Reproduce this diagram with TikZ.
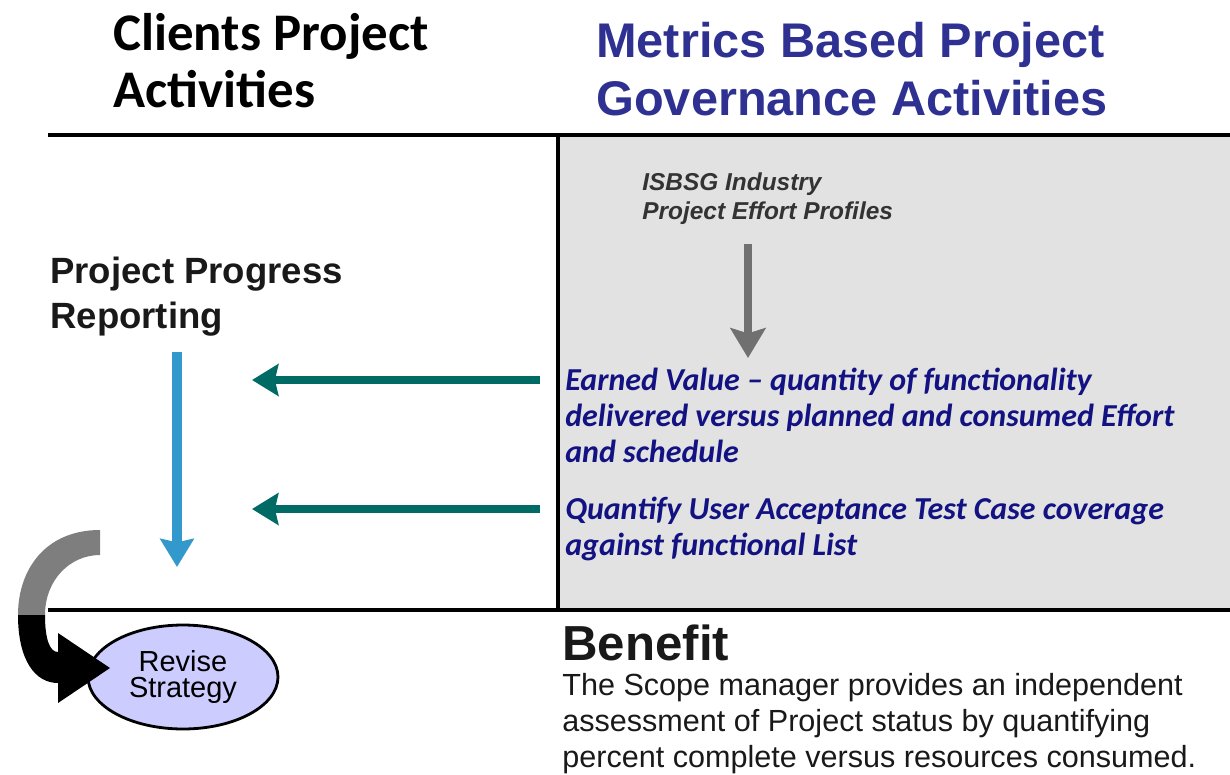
\documentclass[tikz,border=0pt]{standalone}
\usepackage{fontspec}
\setmainfont{Liberation Sans}
\newfontfamily\carlito{Carlito}
\usepackage{xcolor}
\usetikzlibrary{arrows.meta}
\usetikzlibrary{shapes.geometric}

\definecolor{hdrblue}{RGB}{46,49,146}
\definecolor{navytext}{RGB}{18,18,130}
\definecolor{tealarrow}{RGB}{0,106,100}
\definecolor{skyarrow}{RGB}{51,153,204}
\definecolor{boxgray}{RGB}{226,226,226}
\definecolor{softlav}{RGB}{204,204,255}
\definecolor{arrowgray}{RGB}{112,112,112}

\tikzset{
  rule/.style={line width=1.8pt},
  txt/.style={anchor=base west,inner sep=0pt,align=left},
  feed/.style={tealarrow,line width=5.1pt,-{Stealth[length=15pt,width=18pt,inset=2pt]}},
}

\begin{document}
\begin{tikzpicture}[x=0.02cm,y=-0.02cm]
        \useasboundingbox (0,0) rectangle (1230,774);
        \fill[boxgray] (558,135) rectangle (1230,610);
        \draw[rule] (48,135) -- (1230,135);
        \draw[rule] (48,610) -- (1230,610);
        \draw[rule] (558,135) -- (558,610);
        \node[txt,font=\carlito\bfseries\fontsize{30.1pt}{32.3pt}\selectfont] (clients) at (113,107) {Clients Project\\Activities};
        \node[txt,hdrblue,font=\bfseries\fontsize{27.7pt}{32.9pt}\selectfont] (metrics) at (596,115) {Metrics Based Project\\Governance Activities};
        \node[txt,black!80,font=\bfseries\itshape\fontsize{13.9pt}{16.4pt}\selectfont] (isbsg) at (642,219) {ISBSG Industry\\Project Effort Profiles};
        \node[txt,black!90,font=\bfseries\fontsize{20.8pt}{25.5pt}\selectfont] (progress) at (50,328) {Project Progress\\Reporting};
        \node[txt,navytext,font=\carlito\bfseries\itshape\fontsize{18.2pt}{20.4pt}\selectfont] (earned) at (565,462) {Earned Value – quantity of functionality\\delivered versus planned and consumed Effort\\and schedule};
        \node[txt,navytext,font=\carlito\bfseries\itshape\fontsize{18.2pt}{20.4pt}\selectfont] (uat) at (565,555) {Quantify User Acceptance Test Case coverage\\against functional List};
        \node[txt,black!90,font=\bfseries\fontsize{28pt}{30pt}\selectfont] (benefit) at (562,660) {Benefit};
        \node[txt,black!90,font=\fontsize{17.4pt}{20.4pt}\selectfont] (benefittext) at (562,767) {The Scope manager provides an independent\\assessment of Project status by quantifying\\percent complete versus resources consumed.};
        \coordinate (isbsg out) at (748,244);
        \coordinate (earned in) at (748,358);
        \draw[arrowgray,line width=4.5pt,-{Stealth[length=17pt,width=20pt,inset=3pt]}] (isbsg out) -- (earned in);
        \coordinate (earned out) at (540,380);
        \coordinate (earned tip) at (252,380);
        \coordinate (uat out) at (540,509);
        \coordinate (uat tip) at (252,509);
        \draw[feed] (earned out) -- (earned tip);
        \draw[feed] (uat out) -- (uat tip);
        \coordinate (progress out) at (177,352);
        \coordinate (progress tip) at (177,567);
        \draw[skyarrow,line width=5.7pt,-{Stealth[length=16pt,width=19pt,inset=2pt]}] (progress out) -- (progress tip);
        \node[ellipse,draw,line width=1.6pt,fill=softlav,minimum width=3.8cm,minimum height=2.08cm,inner sep=0pt,align=center,font=\fontsize{16.5pt}{15.3pt}\selectfont] (revise) at (183,677) {Revise\\Strategy};
        \fill[arrowgray!90] (100,530) .. controls (45,530) and (18,570) .. (18,615) -- (45,615) .. controls (45,580) and (70,555) .. (100,555) -- cycle;
        \fill[black] (18,615) .. controls (18,660) and (35,683) .. (58,683) -- (58,703) -- (110,668) -- (58,633) -- (58,652) .. controls (50,652) and (45,640) .. (45,615) -- cycle;
    \end{tikzpicture}
\end{document}
